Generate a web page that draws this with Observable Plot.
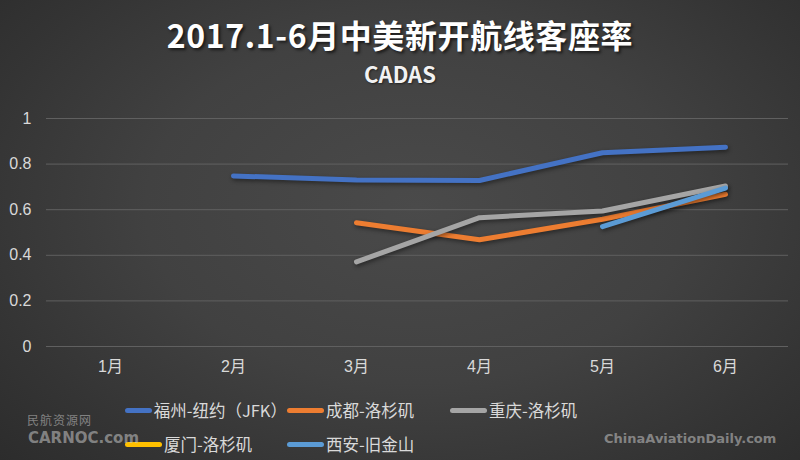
<!DOCTYPE html>
<html>
<head>
<meta charset="utf-8">
<script src="https://cdn.jsdelivr.net/npm/d3@7"></script>
<script src="https://cdn.jsdelivr.net/npm/@observablehq/plot@0.6"></script>
<style>
  html, body { margin: 0; padding: 0; background: #333; }
  #wrap {
    position: relative; width: 800px; height: 460px; overflow: hidden;
    background: radial-gradient(ellipse 75% 85% at 52% 45%, #4a4a4a 0%, #414141 45%, #343434 75%, #2a2a2a 100%);
    font-family: "Noto Sans CJK SC", "Noto Sans", sans-serif;
  }
  #title {
    position: absolute; left: 0; top: 15px; width: 800px; text-align: center;
    color: #ffffff; font-size: 32px; font-weight: 700; letter-spacing: 0.6px;
    text-shadow: 2px 2px 3px rgba(0,0,0,0.6); line-height: 1.2;
  }
  #subtitle {
    position: absolute; left: 0; top: 60px; width: 800px; text-align: center;
    color: #f2f2f2; font-size: 22px; font-weight: 700;
    text-shadow: 1px 1px 2px rgba(0,0,0,0.5); line-height: 1.2;
  }
  #chart { position: absolute; left: 0; top: 100px; }
  #chart svg { background: transparent; overflow: visible; }
  #legend {
    position: absolute; left: 125px; top: 397px;
    display: grid; grid-template-columns: 162px 163px auto; row-gap: 8px;
    color: #d9d9d9; font-size: 16.5px; line-height: 26px;
  }
  .item { display: flex; align-items: center; white-space: nowrap; }
  .sw { width: 37px; height: 5px; border-radius: 3px; margin-right: 2px; }
  .wm { position: absolute; color: rgba(200,200,200,0.55); font-weight: 700; white-space: nowrap; }
</style>
</head>
<body>
<div id="wrap">
  <div id="title"></div>
  <div id="subtitle"></div>
  <div id="chart"></div>
  <div id="legend"></div>
  <div class="wm" style="left:27px;top:411px;font-size:12px;font-weight:400;letter-spacing:1px;">民航资源网</div>
  <div class="wm" style="left:28px;top:429px;font-size:15px;font-family:'DejaVu Sans';">CARNOC.com</div>
  <div class="wm" style="left:604px;top:431px;font-size:13px;font-family:'DejaVu Sans';">ChinaAviationDaily.com</div>
</div>
<script>
const titleText = "2017.1-6月中美新开航线客座率";
const subtitleText = "CADAS";
const months = ["1月", "2月", "3月", "4月", "5月", "6月"];
const seriesNames = ["福州-纽约（JFK）", "成都-洛杉矶", "重庆-洛杉矶", "厦门-洛杉矶", "西安-旧金山"];
const seriesColors = ["#4472C4", "#ED7D31", "#A5A5A5", "#FFC000", "#5B9BD5"];
const fuzhou    = [null, 0.748, 0.730, 0.728, 0.850, 0.874];
const chengdu   = [null, null, 0.543, 0.468, 0.558, 0.668];
const chongqing = [null, null, 0.371, 0.565, 0.594, 0.704];
const xiamen    = [null, null, null, null, null, null];
const xian      = [null, null, null, null, 0.526, 0.695];
const yTicks = [0, 0.2, 0.4, 0.6, 0.8, 1];

const seriesValues = [fuzhou, chengdu, chongqing, xiamen, xian];
const data = [];
seriesValues.forEach((vals, i) => {
  vals.forEach((v, j) => {
    if (v != null) data.push({series: seriesNames[i], month: months[j], value: v});
  });
});

document.getElementById("title").textContent = titleText;
document.getElementById("subtitle").textContent = subtitleText;

const chart = Plot.plot({
  width: 800,
  height: 290,
  marginLeft: 46,
  marginRight: 12,
  marginTop: 18,
  marginBottom: 44,
  style: {background: "transparent", color: "#d9d9d9", fontSize: "16px", fontFamily: "'Liberation Sans', 'Noto Sans CJK SC', sans-serif"},
  x: {type: "point", domain: months, padding: 0.5, label: null},
  y: {domain: [0, 1], ticks: yTicks, label: null},
  color: {domain: seriesNames, range: seriesColors},
  marks: [
    Plot.ruleY(yTicks, {stroke: "#606060", strokeWidth: 1}),
    Plot.axisY({ticks: yTicks, tickSize: 0, tickPadding: 15, tickFormat: d => String(d), label: null, fill: "#d9d9d9"}),
    Plot.axisX({tickSize: 0, tickPadding: 14, label: null, fill: "#d9d9d9"}),
    Plot.line(data, {
      x: "month", y: "value", z: "series", stroke: "series",
      strokeWidth: 5, strokeLinecap: "round", strokeLinejoin: "round"
    })
  ]
});
document.getElementById("chart").appendChild(chart);
chart.querySelectorAll("g[aria-label='line'] path").forEach(p => p.style.filter = "drop-shadow(1px 2px 2px rgba(0,0,0,0.45))");

const legend = document.getElementById("legend");
seriesNames.forEach((name, i) => {
  const item = document.createElement("div");
  item.className = "item";
  const sw = document.createElement("span");
  sw.className = "sw";
  sw.style.background = seriesColors[i];
  const label = document.createElement("span");
  label.textContent = name;
  item.appendChild(sw);
  item.appendChild(label);
  legend.appendChild(item);
});
</script>
</body>
</html>
